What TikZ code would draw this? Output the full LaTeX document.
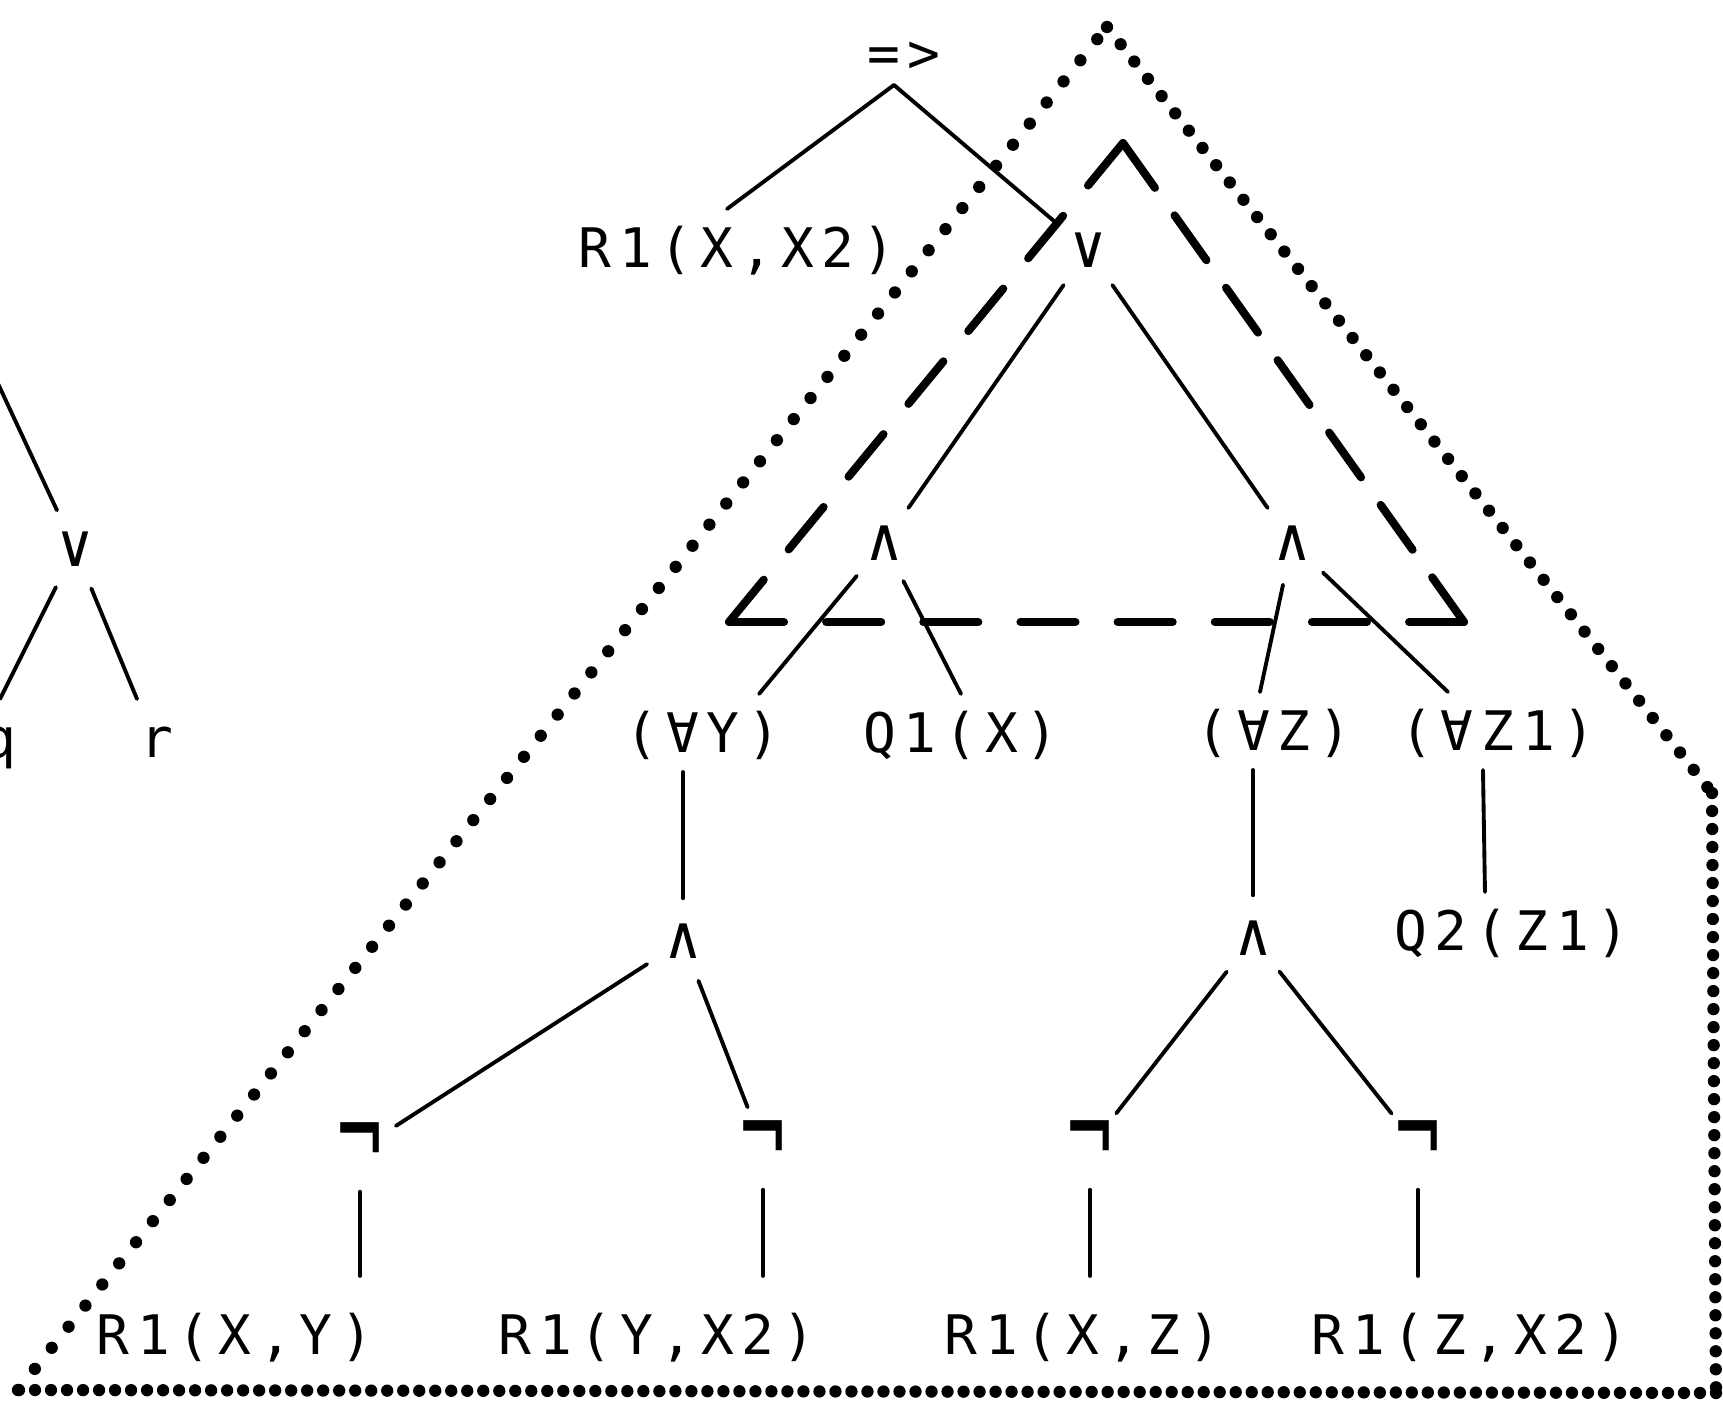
\documentclass[tikz,border=0pt]{standalone}
\usepackage{fontspec}
\newfontfamily\treefont[LetterSpace=14.2]{DejaVu Sans Mono}
\newfontfamily\opfont{DejaVu Sans Mono}
\newcommand{\notsym}{\scalebox{1.25}[2.1]{¬}}
\tikzset{
  fedge/.style={line width=1.1pt, line cap=round},
  flbl/.style={anchor=base, inner sep=0pt, outer sep=0.2cm, text height=0.38cm,
               text depth=0pt, font=\treefont\fontsize{15.5}{18}\selectfont},
  fleaf/.style={flbl, outer sep=0.4cm},
  fop/.style={circle, inner sep=0pt, minimum size=0.84cm,
              font=\opfont\fontsize{17}{20}\selectfont},
  fdash/.style={line width=2.3pt, line cap=round, dash pattern=on 0.55cm off #1},
  fdots/.style={line width=3.5pt, line cap=round, dash pattern=on 0pt off #1},
}

\begin{document}
\begin{tikzpicture}[x=0.01cm, y=-0.01cm]
  \useasboundingbox (0,0) rectangle (1723,1403);
  \clip (0,0) rectangle (1723,1403);

  % contorno pontilhado
  \coordinate (ptop)   at (1107,27);
  \coordinate (pleft)  at (18,1390);
  \coordinate (pbend)  at (1712,793);
  \coordinate (pright) at (1716,1393);
  \draw[fdots=0.27cm] (pleft) -- (ptop);
  \draw[fdots=0.22cm] (ptop) -- (pbend);
  \draw[fdots=0.18cm] (pbend) -- (pright);
  \draw[fdots=0.16cm] (pright) -- (pleft);

  % triangulo tracejado
  \coordinate (dtop)   at (1123,143);
  \coordinate (dleft)  at (729,622);
  \coordinate (dright) at (1464,622);
  \draw[fdash=0.392cm] (dtop) -- (dleft);
  \draw[fdash=0.338cm] (dtop) -- (dright);
  \draw[fdash=0.421cm] (dleft) -- (dright);

  % arvore parcial (esquerda)
  \coordinate (up0) at (-40,302);
  \node[fop]  (or0) at (75,549) {∨};
  \node[flbl] (q)   at (0,757)  {q};
  \node[flbl] (r)   at (157,757) {r};
  \draw[fedge] (up0) -- (or0);
  \draw[fedge] (or0) -- (q.north);
  \draw[fedge] (or0) -- ([xshift=-0.2cm]r.north);

  % arvore principal
  \node[flbl, outer sep=0.13cm] (imp) at (904,72) {=>};
  \node[flbl]  (r1x2)  at (737,267)   {R1(X,X2)};
  \node[fop]   (or1)   at (1088,250)  {∨};
  \node[fop]   (andq)  at (884,543)   {∧};
  \node[fop]   (andz)  at (1292,543)  {∧};
  \node[flbl]  (ally)  at (703,752)   {(∀Y)};
  \node[flbl]  (q1)    at (961,752)   {Q1(X)};
  \node[flbl]  (allz)  at (1274,750)  {(∀Z)};
  \node[flbl]  (allz1) at (1498,750)  {(∀Z1)};
  \node[fop]   (andy)  at (683,941)   {∧};
  \node[fop]   (andzz) at (1253,938)  {∧};
  \node[flbl]  (q2)    at (1512,950)  {Q2(Z1)};
  \node[fop]   (neg1)  at (360,1149)  {\notsym};
  \node[fop]   (neg2)  at (763,1147)  {\notsym};
  \node[fop]   (neg3)  at (1090,1147) {\notsym};
  \node[fop]   (neg4)  at (1418,1147) {\notsym};
  \node[fleaf] (rxy)   at (235,1354)  {R1(X,Y)};
  \node[fleaf] (ryx2)  at (657,1354)  {R1(Y,X2)};
  \node[fleaf] (rxz)   at (1083,1354) {R1(X,Z)};
  \node[fleaf] (rzx2)  at (1470,1354) {R1(Z,X2)};

  % ramos
  \draw[fedge] ([xshift=-0.1cm]imp.south) -- ([xshift=-0.1cm]r1x2.north);
  \draw[fedge] ([xshift=-0.1cm]imp.south) -- (or1);
  \draw[fedge] (or1) -- (andq);
  \draw[fedge] (or1) -- (andz);
  \draw[fedge] (andq) -- ([xshift=0.56cm]ally.north);
  \draw[fedge] (andq) -- (q1.north);
  \draw[fedge] (andz) -- ([xshift=-0.14cm]allz.north);
  \draw[fedge] (andz) -- ([xshift=-0.5cm]allz1.north);
  \draw[fedge] (andy |- ally.south) -- (andy);
  \draw[fedge] (andzz |- allz.south) -- (andzz);
  \draw[fedge] ([xshift=-0.15cm]allz1.south) -- ([xshift=-0.27cm]q2.north);
  \draw[fedge] (andy) -- (neg1);
  \draw[fedge] (andy) -- (neg2);
  \draw[fedge] (andzz) -- (neg3);
  \draw[fedge] (andzz) -- (neg4);
  \foreach \n/\l in {neg1/rxy, neg2/ryx2, neg3/rxz, neg4/rzx2}
    \draw[fedge] (\n) -- (\n |- \l.north);

\end{tikzpicture}
\end{document}
